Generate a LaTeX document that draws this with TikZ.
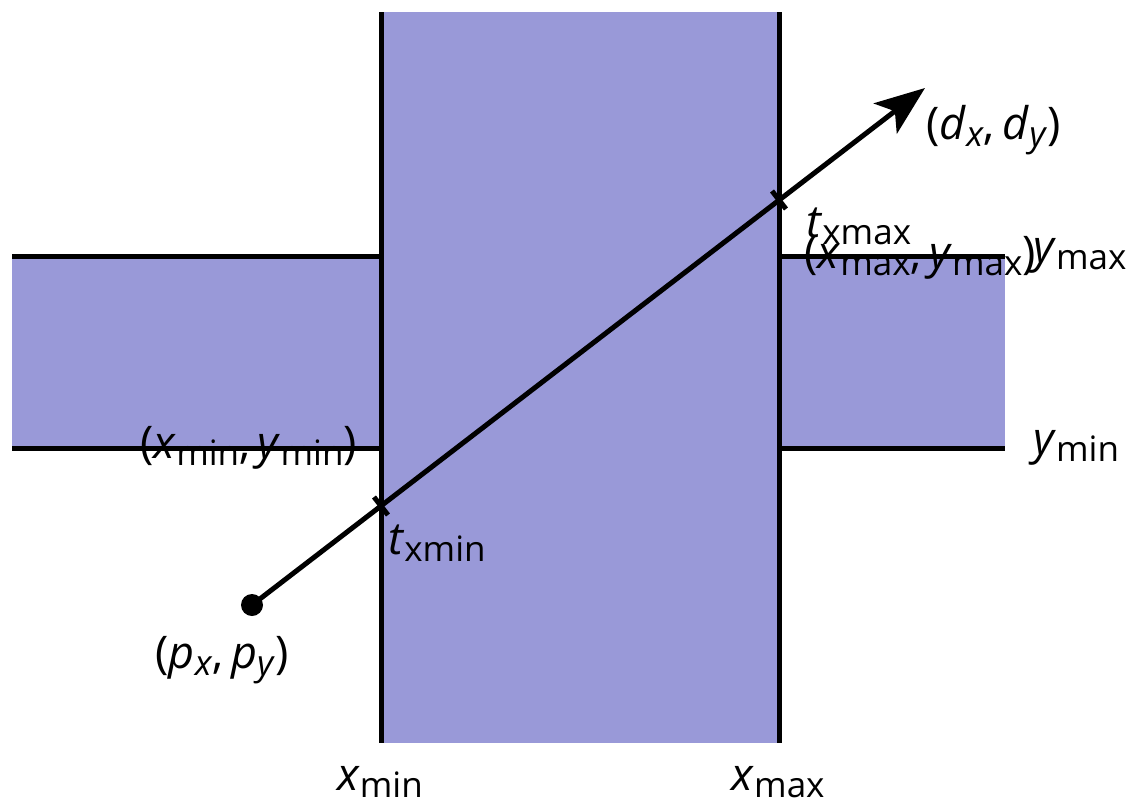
\documentclass[tikz,border=0pt]{standalone}
\usepackage{fontspec}
\setmainfont{Open Sans}
\usetikzlibrary{arrows.meta}
\definecolor{bandblue}{RGB}{153,153,216}
\newcommand{\sv}[2]{\textit{#1}\raisebox{-0.3ex}{\fontsize{35}{38}\selectfont #2}}

\begin{document}
\begin{tikzpicture}[x=1pt,y=-1pt,
	lbl/.style={font=\fontsize{45}{50}\selectfont, inner sep=0pt},
	edge/.style={line width=5pt},
	band/.style={fill=bandblue}
	]
	\useasboundingbox (0,0) rectangle (1135,804);
	% slab corners
	\coordinate (xa) at (381,12);   \coordinate (xb) at (381,743);
	\coordinate (xc) at (779,12);   \coordinate (xd) at (779,743);
	\coordinate (la) at (12,256);   \coordinate (lb) at (381,256);
	\coordinate (lc) at (12,448);   \coordinate (ld) at (381,448);
	\coordinate (ra) at (779,256);  \coordinate (rb) at (1005,256);
	\coordinate (rc) at (779,448);  \coordinate (rd) at (1005,448);
	% fills
	\fill[band] (xa) rectangle (xd);
	\fill[band] (la) rectangle (ld);
	\fill[band] (ra) rectangle (rd);
	% slab edges
	\draw[edge] (xa) -- (xb);
	\draw[edge] (xc) -- (xd);
	\draw[edge] (la) -- (lb);
	\draw[edge] (lc) -- (ld);
	\draw[edge] (ra) -- (rb);
	\draw[edge] (rc) -- (rd);
	% ray
	\node[circle, fill=black, inner sep=0pt, minimum size=22pt] (p) at (252,605) {};
	\coordinate (d) at (925,88);
	\coordinate (t1) at (381,506);
	\coordinate (t2) at (779,200);
	\draw[edge, -{Stealth[length=50pt,width=38pt,inset=12pt]}] (p.center) -- (d);
	\draw[edge] ([shift={(-7,-9)}]t1) -- ([shift={(7,9)}]t1);
	\draw[edge] ([shift={(-7,-9)}]t2) -- ([shift={(7,9)}]t2);
	% labels
	\node[lbl, anchor=west] (dl) at (926,130) {(\sv{d}{\textit{x}},\,\sv{d}{\textit{y}})};
	\node[lbl, anchor=west] (tmax) at (806,226) {\sv{t}{xmax}};
	\node[lbl, anchor=west] (cmax) at (804,258) {(\sv{x}{max},\,\sv{y}{max})};
	\node[lbl, anchor=west] (ymax) at (1033,256) {\sv{y}{max}};
	\node[lbl, anchor=west] (ymin) at (1033,448) {\sv{y}{min}};
	\node[lbl, anchor=east] (cmin) at (357,448) {(\sv{x}{min},\,\sv{y}{min})};
	\node[lbl, anchor=west] (tmin) at (388,543) {\sv{t}{xmin}};
	\node[lbl] (pl) at (222,660) {(\sv{p}{\textit{x}},\,\sv{p}{\textit{y}})};
	\node[lbl] (xminl) at (380,782) {\sv{x}{min}};
	\node[lbl] (xmaxl) at (778,782) {\sv{x}{max}};
\end{tikzpicture}
\end{document}
